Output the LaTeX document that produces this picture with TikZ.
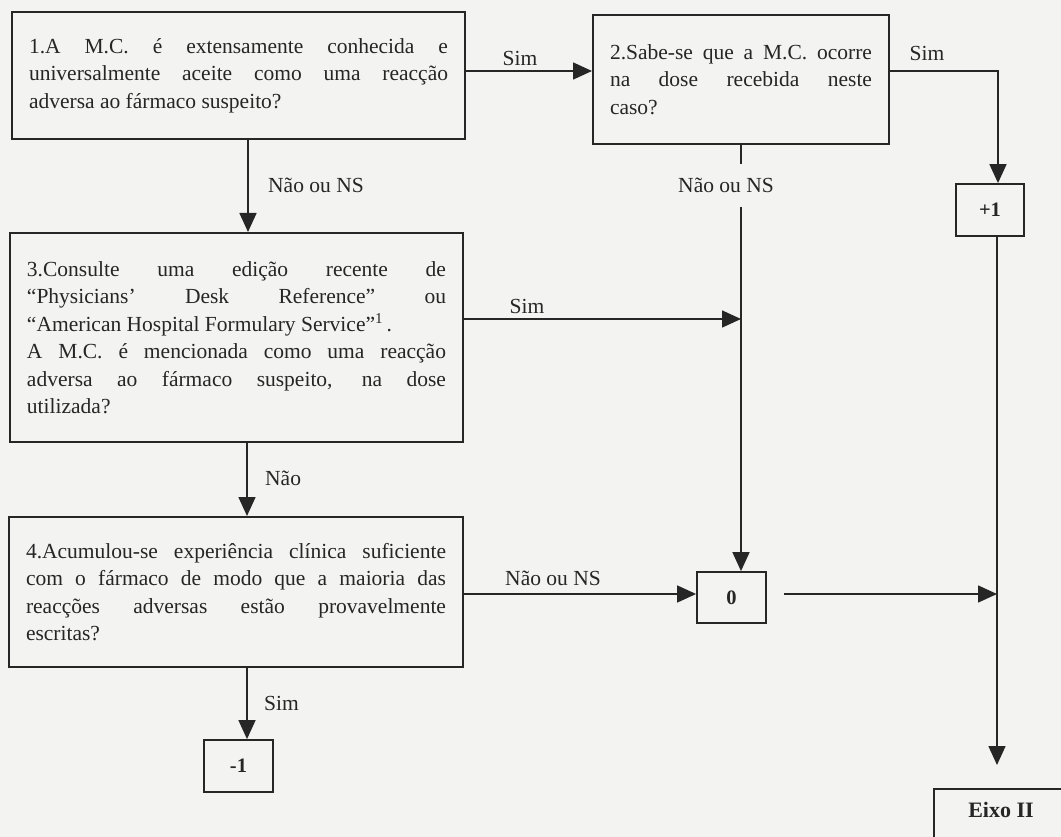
\documentclass[tikz,border=0pt]{standalone}
\usepackage{fontspec}
\setmainfont{Liberation Serif}
\usetikzlibrary{arrows.meta}

\definecolor{paper}{RGB}{243,243,242}
\definecolor{ink}{RGB}{38,38,38}

\newcommand\questionfont{\fontsize{21.5}{27.5}\selectfont}
\newcommand\scorefont{\bfseries\fontsize{20.5}{22}\selectfont}

\tikzset{
  qbox/.style={draw=ink, line width=2pt, rectangle, inner xsep=17pt, inner ysep=0pt,
               align=justify, font=\questionfont, text=ink},
  scorebox/.style={draw=ink, line width=1.8pt, rectangle, inner sep=0pt,
                   font=\scorefont, text=ink},
  conn/.style={draw=ink, line width=1.6pt},
  arr/.style={conn, -{Triangle[length=19pt,width=17pt]}},
  lbl/.style={font=\questionfont, text=ink, inner sep=0pt},
}

\begin{document}
\begin{tikzpicture}[x=1pt, y=-1pt]
  \useasboundingbox (0,0) rectangle (1061,837);
  \clip (0,0) rectangle (1061,837);
  \fill[paper] (0,0) rectangle (1061,837);

  % question boxes
  \node[qbox, text width=419pt, minimum height=127pt] (b1) at (238.5,75.5)
    {\hangindent=15pt\hangafter=1\relax
     1.A M.C. é extensamente conhecida e\linebreak
     universalmente aceite como uma reacção\linebreak
     adversa ao fármaco suspeito?};

  \node[qbox, text width=262pt, minimum height=129pt] (b2) at (741,79.5)
    {\hangindent=16pt\hangafter=1\relax
     2.Sabe-se que a M.C. ocorre\linebreak
     na dose recebida neste\linebreak
     caso?};

  \node[qbox, text width=419pt, minimum height=209pt] (b3) at (236.5,337.5)
    {\hangindent=17pt\hangafter=1\relax
     3.Consulte uma edição recente de\linebreak
     “Physicians’ Desk Reference” ou\linebreak
     “American Hospital Formulary Service”\textsuperscript{1}\,.\newline
     A M.C. é mencionada como uma reacção\linebreak
     adversa ao fármaco suspeito, na dose\linebreak
     utilizada?};

  \node[qbox, text width=420pt, minimum height=150pt] (b4) at (236,592)
    {\hangindent=17pt\hangafter=1\relax
     4.Acumulou-se experiência clínica suficiente\linebreak
     com o fármaco de modo que a maioria das\linebreak
     reacções adversas estão provavelmente\linebreak
     escritas?};

  % score boxes
  \node[scorebox, minimum width=68pt, minimum height=52pt] (p1) at (990,210) {+1};
  \node[scorebox, minimum width=69pt, minimum height=51pt] (z0) at (731.5,597.5) {0};
  \node[scorebox, minimum width=69pt, minimum height=52pt] (m1) at (238.5,766) {-1};
  \node[scorebox, minimum width=140pt, minimum height=80pt, anchor=north west]
    (eixo) at (933,788) {};
  \node[font=\bfseries\fontsize{22}{24}\selectfont, text=ink, inner sep=0pt]
    (eixotxt) at (1001,810) {Eixo II};

  % branch labels
  \node[lbl] (s12) at (520,58) {Sim};
  \node[lbl, anchor=west] (n13) at (268,185) {Não ou NS};
  \node[lbl] (s2p) at (927,53) {Sim};
  \node[lbl] (n2z) at (726,185) {Não ou NS};
  \node[lbl] (s3z) at (527,306) {Sim};
  \node[lbl, anchor=west] (n34) at (265,478) {Não};
  \node[lbl] (n4z) at (553,578) {Não ou NS};
  \node[lbl, anchor=west] (s4m) at (264,703) {Sim};

  % connectors
  \coordinate (j1) at (998,71);
  \coordinate (c2) at (741,207);

  \draw[arr] (b1.east |- 0,71) -- (b2.west |- 0,71);
  \draw[arr] (b2.east |- 0,71) -- (j1) -- (p1.north -| j1);

  \draw[conn] (b2.south) -- ++(0,19);
  \draw[arr] (c2) -- (z0.north -| c2);

  \draw[arr] (248,0 |- b1.south) -- (248,0 |- b3.north);
  \draw[arr] (b3.east |- 0,319) -- (741,319);

  \draw[arr] (247,0 |- b3.south) -- (247,0 |- b4.north);
  \draw[arr] (b4.east |- 0,594) -- (z0.west |- 0,594);
  \draw[arr] (247,0 |- b4.south) -- (247,0 |- m1.north);

  \draw[arr, shorten <=17pt] (z0.east |- 0,594) -- (997,594);
  \draw[arr, shorten >=23pt] (997,0 |- p1.south) -- (997,0 |- eixo.north);
\end{tikzpicture}
\end{document}
